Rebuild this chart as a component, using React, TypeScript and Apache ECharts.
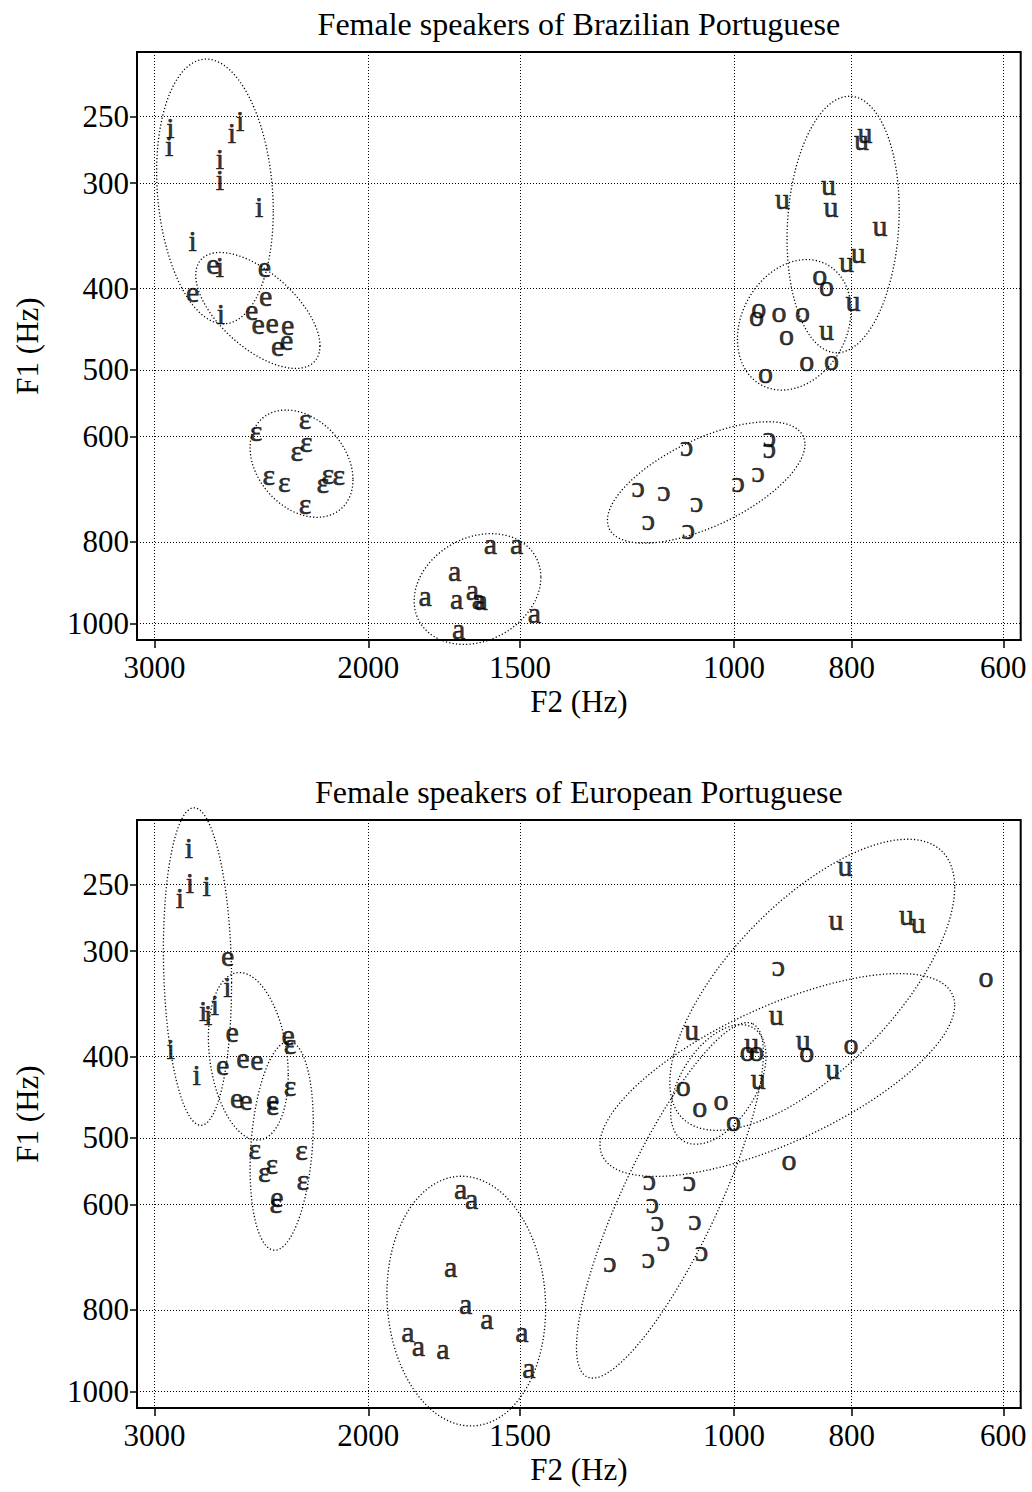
import React, { useEffect, useRef } from "react";
import * as echarts from "echarts";

// ---- axes ----
const F2_TICKS = [3000, 2000, 1500, 1000, 800, 600];
const F1_TICKS = [250, 300, 400, 500, 600, 800, 1000];
const F2_MIN = 580.6;
const F2_MAX = 3101;
const F1_MIN = 209.7;
const F1_MAX = 1046;

const TITLE_BP = "Female speakers of Brazilian Portuguese";
const TITLE_EP = "Female speakers of European Portuguese";
const X_NAME = "F2 (Hz)";
const Y_NAME = "F1 (Hz)";

const VOWELS = ["i", "e", "ɛ", "a", "ɔ", "o", "u"];

// ---- Brazilian Portuguese: [F2, F1] in Hz ----
const BP_I = [[2910, 260], [2917, 273], [2550, 255], [2590, 264], [2650, 283], [2650, 300], [2460, 323], [2790, 354], [2650, 380], [2645, 433]];
const BP_E = [[2685, 377], [2435, 380], [2790, 407], [2430, 412], [2495, 428], [2465, 445], [2400, 443], [2330, 446], [2335, 465], [2375, 472]];
const BP_EPS = [[2475, 595], [2255, 576], [2250, 614], [2290, 629], [2415, 672], [2345, 685], [2180, 687], [2160, 670], [2115, 672], [2255, 727]];
const BP_A = [[1587, 811], [1510, 811], [1698, 873], [1796, 935], [1692, 942], [1642, 921], [1623, 942], [1615, 946], [1460, 979], [1685, 1023]];
const BP_OO = [[1094, 620], [935, 606], [935, 624], [1199, 694], [1142, 702], [1073, 723], [1176, 760], [1090, 778], [992, 685], [955, 666]];
const BP_O = [[850, 389], [839, 401], [954, 426], [958, 435], [918, 430], [878, 430], [905, 458], [871, 492], [831, 491], [942, 508]];
const BP_U = [[780, 264], [785, 269], [912, 316], [836, 304], [832, 323], [758, 340], [790, 366], [808, 375], [798, 417], [839, 452]];

// ellipses: [centre, conjugate point 1, conjugate point 2] in Hz
const BP_ELLIPSES = [
  [[2675, 307], [2395, 324], [2675, 439]],
  [[2466, 425], [2192, 468], [2466, 482]],
  [[2270, 646], [2059, 675], [2270, 743]],
  [[1626, 910], [1442, 881], [1626, 1055]],
  [[1054, 680], [874, 613], [1054, 774]],
  [[892, 442], [801, 425], [892, 526]],
  [[813, 336], [731, 323], [813, 476]],
];

// ---- European Portuguese: [F2, F1] in Hz ----
const EP_I = [[2810, 228], [2805, 251], [2858, 262], [2717, 253], [2613, 334], [2735, 356], [2709, 360], [2675, 351], [2909, 395], [2769, 425]];
const EP_E = [[2611, 307], [2589, 377], [2636, 413], [2537, 405], [2470, 407], [2328, 380], [2567, 452], [2522, 455], [2398, 454], [2378, 592]];
const EP_EPS = [[2320, 390], [2320, 437], [2480, 519], [2402, 541], [2436, 553], [2270, 521], [2265, 566], [2383, 602], [2398, 461]];
const EP_A = [[1679, 579], [1644, 595], [1711, 717], [1663, 793], [1597, 826], [1855, 857], [1819, 890], [1736, 898], [1495, 857], [1475, 945]];
const EP_OO = [[919, 315], [1174, 565], [1088, 567], [1167, 603], [1156, 633], [1077, 631], [1143, 669], [1176, 700], [1063, 686], [1265, 707]];
const EP_O = [[620, 325], [975, 397], [958, 397], [871, 399], [801, 390], [1101, 438], [1067, 463], [1025, 454], [1001, 481], [901, 535]];
const EP_U = [[810, 240], [824, 278], [721, 274], [705, 280], [1083, 375], [923, 360], [967, 389], [877, 386], [955, 429], [829, 418]];

const EP_ELLIPSES = [
  [[2765, 313], [2592, 327], [2765, 482]],
  [[2511, 400], [2328, 421], [2511, 500]],
  [[2357, 511], [2220, 480], [2357, 675]],
  [[1661, 781], [1429, 797], [1661, 1098]],
  [[1129, 593], [965, 366], [1040, 627]],
  [[862, 329], [658, 252], [862, 442]],
  [[921, 421], [658, 348], [921, 515]],
  [[1030, 432], [941, 400], [1030, 499]],
];

const PANELS = [
  { title: TITLE_BP, points: [BP_I, BP_E, BP_EPS, BP_A, BP_OO, BP_O, BP_U], ellipses: BP_ELLIPSES },
  { title: TITLE_EP, points: [EP_I, EP_E, EP_EPS, EP_A, EP_OO, EP_O, EP_U], ellipses: EP_ELLIPSES },
];

const FONT = "'Liberation Serif', 'Times New Roman', Times, serif";
const L = (v: number) => Math.log10(v);
const fmt = (v: number) => String(Math.round(Math.pow(10, v)));

const GRID_LEFT = 137;
const GRID_WIDTH = 883.7;
const GRID_HEIGHT = 588;
const GRID_TOPS = [52, 820];
const TITLE_TOPS = [8, 776];
const PLOT_CENTER_X = GRID_LEFT + GRID_WIDTH / 2;

function buildOption() {
  const grid: any[] = [];
  const xAxis: any[] = [];
  const yAxis: any[] = [];
  const title: any[] = [];
  const series: any[] = [];

  PANELS.forEach((panel, p) => {
    grid.push({
      left: GRID_LEFT,
      top: GRID_TOPS[p],
      width: GRID_WIDTH,
      height: GRID_HEIGHT,
      show: true,
      borderColor: "#000",
      borderWidth: 2,
      backgroundColor: "transparent",
      containLabel: false,
      outerBoundsMode: "none",
    });
    title.push({
      text: panel.title,
      left: PLOT_CENTER_X,
      top: TITLE_TOPS[p],
      textAlign: "center",
      padding: 0,
      textStyle: { fontFamily: FONT, fontSize: 32, fontWeight: "normal", color: "#000" },
    });
    xAxis.push({
      type: "value",
      gridIndex: p,
      inverse: true,
      min: L(F2_MIN),
      max: L(F2_MAX),
      name: X_NAME,
      nameLocation: "middle",
      nameGap: 46,
      nameTextStyle: { fontFamily: FONT, fontSize: 31, color: "#000" },
      axisLine: { show: true, onZero: false, lineStyle: { color: "#000", width: 2 } },
      axisTick: {
        show: true,
        inside: false,
        length: 8,
        customValues: F2_TICKS.map(L),
        lineStyle: { color: "#000", width: 1.5 },
      },
      axisLabel: {
        show: true,
        margin: 12,
        customValues: F2_TICKS.map(L),
        formatter: fmt,
        fontFamily: FONT,
        fontSize: 31,
        color: "#000",
      },
      splitLine: { show: true, lineStyle: { color: "#000", width: 1, type: [1, 2] } },
    });
    yAxis.push({
      type: "value",
      gridIndex: p,
      inverse: true,
      min: L(F1_MIN),
      max: L(F1_MAX),
      name: Y_NAME,
      nameLocation: "middle",
      nameGap: 94,
      nameTextStyle: { fontFamily: FONT, fontSize: 31, color: "#000" },
      axisLine: { show: true, onZero: false, lineStyle: { color: "#000", width: 2 } },
      axisTick: {
        show: true,
        inside: false,
        length: 7,
        customValues: F1_TICKS.map(L),
        lineStyle: { color: "#000", width: 1.5 },
      },
      axisLabel: {
        show: true,
        margin: 8,
        customValues: F1_TICKS.map(L),
        formatter: fmt,
        fontFamily: FONT,
        fontSize: 31,
        color: "#000",
      },
      splitLine: { show: true, lineStyle: { color: "#000", width: 1, type: [1, 2] } },
    });

    // ellipses through the axes' scales
    series.push({
      type: "custom",
      xAxisIndex: p,
      yAxisIndex: p,
      clip: false,
      silent: true,
      z: 2,
      data: panel.ellipses.map(([c, a, b]) => [L(c[0]), L(c[1]), L(a[0]), L(a[1]), L(b[0]), L(b[1])]),
      encode: { x: [0, 2, 4], y: [1, 3, 5] },
      renderItem: (params: any, api: any) => {
        const c = api.coord([api.value(0), api.value(1)]);
        const pa = api.coord([api.value(2), api.value(3)]);
        const pb = api.coord([api.value(4), api.value(5)]);
        const ax = pa[0] - c[0];
        const ay = pa[1] - c[1];
        const bx = pb[0] - c[0];
        const by = pb[1] - c[1];
        const pts: number[][] = [];
        const N = 160;
        for (let k = 0; k < N; k++) {
          const t = (2 * Math.PI * k) / N;
          const ct = Math.cos(t);
          const st = Math.sin(t);
          pts.push([c[0] + ax * ct + bx * st, c[1] + ay * ct + by * st]);
        }
        return {
          type: "polygon",
          shape: { points: pts },
          style: { fill: "none", stroke: "#000", lineWidth: 1.3, lineDash: [1.2, 2.2] },
          silent: true,
        };
      },
    });

    // vowel tokens as text labels
    panel.points.forEach((arr, v) => {
      series.push({
        type: "scatter",
        name: VOWELS[v] + p,
        xAxisIndex: p,
        yAxisIndex: p,
        silent: true,
        z: 3,
        symbol: "circle",
        symbolSize: 1,
        itemStyle: { color: "rgba(0,0,0,0)" },
        data: arr.map(([f2, f1]) => [L(f2), L(f1)]),
        label: {
          show: true,
          position: "inside",
          formatter: () => VOWELS[v],
          fontFamily: FONT,
          fontSize: 30,
          color: "#000",
          textBorderColor: "#000",
          textBorderWidth: 0.6,
          offset: [0, -3.5],
        },
        emphasis: { disabled: true },
      });
    });
  });

  return {
    animation: false,
    backgroundColor: "#fff",
    title,
    grid,
    xAxis,
    yAxis,
    series,
  };
}

export default function App() {
  const ref = useRef<HTMLDivElement | null>(null);
  useEffect(() => {
    if (!ref.current) return;
    const chart = echarts.init(ref.current, undefined, { renderer: "svg" });
    chart.setOption(buildOption() as any);
    return () => chart.dispose();
  }, []);
  return (
    <div
      ref={ref}
      style={{ position: "absolute", left: 0, top: 0, width: 1032, height: 1492, background: "#fff" }}
    />
  );
}
